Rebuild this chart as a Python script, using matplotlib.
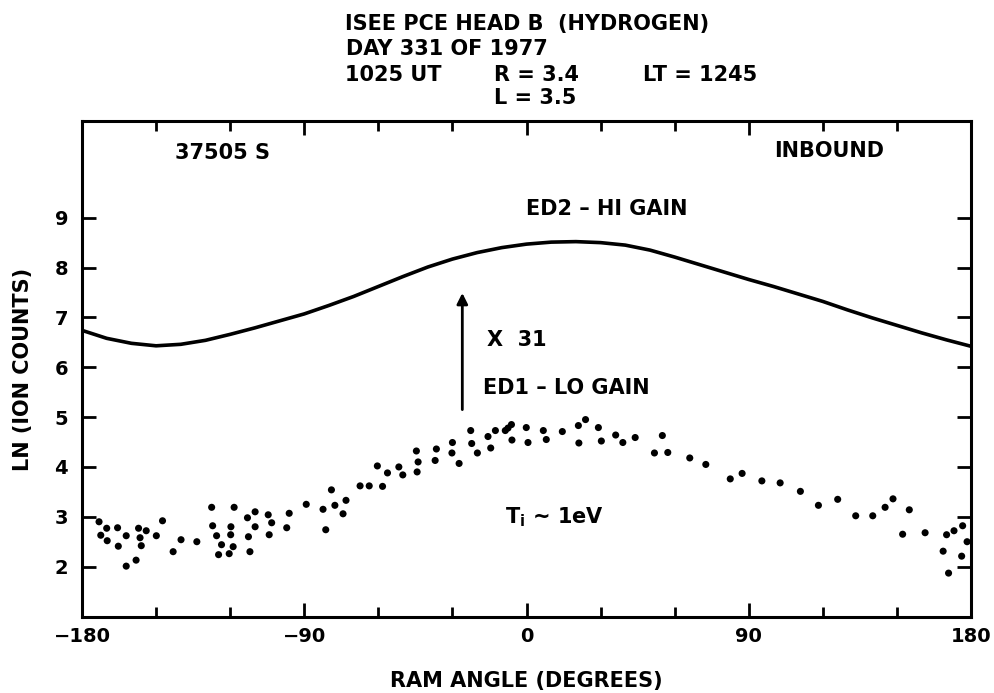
import numpy as np
import matplotlib
matplotlib.use("Agg")
import matplotlib.pyplot as plt
from matplotlib.ticker import MultipleLocator

plt.rcParams['font.family'] = ['DejaVu Sans']
plt.rcParams['font.weight'] = 'bold'
plt.rcParams['mathtext.default'] = 'regular'

# ED2 (hi gain) smooth curve
curve_angle = [-180, -170, -160, -150, -140, -130, -120, -110, -100, -90, -80, -70,
               -60, -50, -40, -30, -20, -10, 0, 10, 20, 30, 40, 50, 60, 70, 80, 90,
               100, 110, 120, 130, 140, 150, 160, 170, 180]
curve_ln = [6.74, 6.58, 6.48, 6.43, 6.46, 6.54, 6.66, 6.79, 6.93, 7.07, 7.24, 7.42,
            7.62, 7.82, 8.01, 8.17, 8.30, 8.40, 8.47, 8.51, 8.52, 8.50, 8.45, 8.35,
            8.21, 8.06, 7.91, 7.76, 7.62, 7.47, 7.32, 7.15, 6.99, 6.84, 6.69, 6.55, 6.42]

# ED1 (lo gain) measured points
ed1_angle = [-173.1, -172.4, -170.0, -169.8, -165.6, -165.3, -162.1, -162.1, -158.1, -157.1,
             -156.5, -156.0, -154.0, -149.9, -147.4, -143.1, -139.9, -133.5, -127.5, -127.1,
             -125.5, -124.7, -123.5, -120.4, -119.8, -119.7, -118.8, -118.4, -113.0, -112.6,
             -112.0, -109.9, -109.9, -104.6, -103.2, -104.2, -97.1, -96.1, -89.2, -82.4,
             -81.3, -79.0, -77.6, -74.3, -73.1, -67.4, -63.7, -60.4, -58.3, -56.3,
             -51.7, -50.1, -44.6, -43.9, -44.3, -37.0, -36.5, -30.0, -30.2, -27.3,
             -22.6, -22.2, -19.9, -15.6, -14.5, -12.6, -8.6, -7.5, -6.1, -5.9,
             -0.1, 0.6, 6.8, 8.0, 14.5, 21.0, 23.9, 21.2, 29.1, 30.3,
             36.1, 39.0, 44.0, 51.8, 55.0, 57.2, 66.1, 72.6, 82.5, 87.3,
             95.3, 102.7, 110.9, 118.2, 126.0, 133.3, 140.2, 145.2, 148.4, 155.0,
             152.3, 161.4, 168.7, 170.1, 170.9, 173.1, 176.2, 176.6, 178.4]
ed1_ln = [2.90, 2.63, 2.77, 2.52, 2.78, 2.41, 2.62, 2.01, 2.13, 2.77,
          2.58, 2.42, 2.72, 2.62, 2.92, 2.30, 2.54, 2.50, 3.19, 2.82,
          2.62, 2.24, 2.44, 2.26, 2.64, 2.80, 2.40, 3.19, 2.98, 2.60,
          2.30, 3.10, 2.80, 3.04, 2.88, 2.64, 2.78, 3.07, 3.25, 3.15,
          2.74, 3.54, 3.23, 3.06, 3.33, 3.62, 3.62, 4.02, 3.61, 3.88,
          4.00, 3.84, 4.32, 4.10, 3.90, 4.13, 4.36, 4.49, 4.28, 4.07,
          4.73, 4.47, 4.28, 4.61, 4.38, 4.73, 4.73, 4.78, 4.85, 4.54,
          4.79, 4.49, 4.73, 4.55, 4.71, 4.83, 4.95, 4.48, 4.79, 4.52,
          4.64, 4.49, 4.59, 4.28, 4.63, 4.29, 4.18, 4.05, 3.76, 3.87,
          3.72, 3.68, 3.51, 3.23, 3.35, 3.02, 3.02, 3.19, 3.36, 3.14,
          2.65, 2.68, 2.31, 2.64, 1.87, 2.72, 2.21, 2.82, 2.50]

yticks = [2, 3, 4, 5, 6, 7, 8, 9]

fig = plt.figure(figsize=(9.94, 6.93), dpi=100)
ax = fig.add_axes([0.0825, 0.1097, 0.8944, 0.7157])

ax.plot(curve_angle, curve_ln, color='black', lw=2.6, solid_capstyle='butt')
ax.scatter(ed1_angle, ed1_ln, s=26, color='black', edgecolors='none', zorder=3)

# gain arrow (x 31)
ax.annotate('', xy=(-26, 7.49), xytext=(-26, 5.15),
            arrowprops=dict(arrowstyle='-|>', color='black', lw=2,
                            mutation_scale=16, shrinkA=0, shrinkB=0))

fs = 15
ax.text(-16.2, 6.55, 'X  31', fontsize=fs, va='center', ha='left')
ax.text(-17.6, 5.58, 'ED1 \u2013 LO GAIN', fontsize=fs, va='center', ha='left')
ax.text(32.4, 9.17, 'ED2 \u2013 HI GAIN', fontsize=fs, va='center', ha='center')
ax.text(-142.4, 10.29, '37505 S', fontsize=fs, va='center', ha='left')
ax.text(100.4, 10.34, 'INBOUND', fontsize=fs, va='center', ha='left')
ax.text(-8.8, 3.0, r'T$_\mathbf{i}$ ~ 1eV', fontsize=fs, va='center', ha='left')

ax.set_xlim(-180, 180)
ax.set_ylim(0.99, 10.94)
ax.set_xticks([-180, -90, 0, 90, 180])
ax.set_xticklabels(['\u2212180', '\u221290', '0', '90', '180'])
ax.xaxis.set_minor_locator(MultipleLocator(30))
ax.set_yticks(yticks)

ax.tick_params(axis='both', which='both', direction='in', top=True, right=True,
               width=2, labelsize=14, color='black')
ax.tick_params(axis='x', which='major', length=10, pad=7)
ax.tick_params(axis='x', which='minor', length=7)
ax.tick_params(axis='y', which='major', length=10, pad=10)
for s in ax.spines.values():
    s.set_linewidth(2.2)

ax.set_xlabel('RAM ANGLE (DEGREES)', fontsize=fs, fontweight='bold')
ax.xaxis.set_label_coords(0.5, -0.108)
ax.set_ylabel('LN (ION COUNTS)', fontsize=fs, fontweight='bold')
ax.yaxis.set_label_coords(-0.055, 0.5)

# header block
hdr = dict(fontsize=fs, fontweight='bold', va='center', ha='left')
fig.text(0.347, 0.966, 'ISEE PCE HEAD B  (HYDROGEN)', **hdr)
fig.text(0.348, 0.929, 'DAY 331 OF 1977', **hdr)
fig.text(0.347, 0.892, '1025 UT', **hdr)
fig.text(0.497, 0.892, 'R = 3.4', **hdr)
fig.text(0.647, 0.892, 'LT = 1245', **hdr)
fig.text(0.497, 0.859, 'L = 3.5', **hdr)

fig.savefig('out.png', dpi=100)
